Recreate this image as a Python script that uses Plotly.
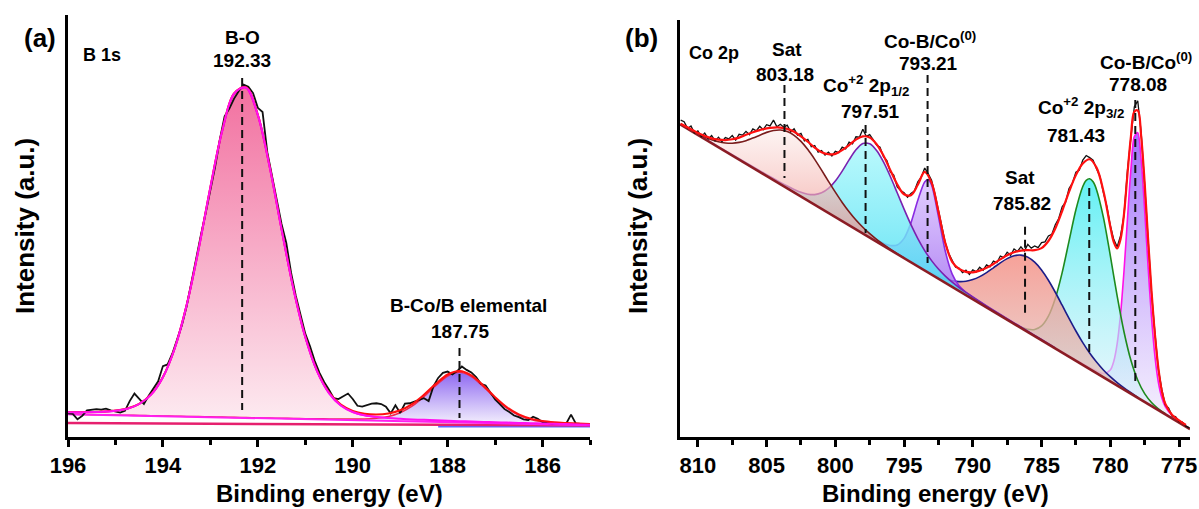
import plotly.graph_objects as go

W, H = 1199, 509
FONT = "Liberation Sans, Arial, sans-serif"

# ---------------- panel (a): B 1s ----------------
a_E = [196.0, 195.75, 195.5, 195.25, 195.0, 194.75, 194.5, 194.25, 194.0, 193.75, 193.5, 193.25,
       193.0, 192.75, 192.5, 192.25, 192.0, 191.75, 191.5, 191.25, 191.0, 190.75, 190.5, 190.25,
       190.0, 189.75, 189.5, 189.25, 189.0, 188.75, 188.5, 188.25, 188.0, 187.75, 187.5, 187.25,
       187.0, 186.75, 186.5, 186.25, 186.0, 185.75, 185.5, 185.25, 185.0]
a_base = [5.40, 5.34, 5.28, 5.22, 5.16, 5.10, 5.05, 4.99, 4.93, 4.87, 4.81, 4.75,
          4.69, 4.63, 4.57, 4.51, 4.45, 4.39, 4.33, 4.28, 4.22, 4.16, 4.10, 4.04,
          3.98, 3.92, 3.86, 3.80, 3.74, 3.68, 3.63, 3.57, 3.51, 3.45, 3.39, 3.33,
          3.27, 3.21, 3.15, 3.10, 3.04, 2.98, 2.92, 2.86, 2.80]
a_BO = [5.87, 5.88, 5.92, 6.01, 6.22, 6.71, 7.82, 10.04, 14.17, 21.04, 31.21, 44.38,
        59.09, 72.55, 81.37, 82.79, 76.28, 63.98, 49.23, 35.14, 23.68, 15.55, 10.40, 7.46,
        5.92, 5.14, 4.73, 4.48, 4.31, 4.17, 4.06, 3.95, 3.85, 3.76, 3.67, 3.58,
        3.50, 3.42, 3.34, 3.28, 3.20, 3.13, 3.06, 2.99, 2.92]
a_BCo = [5.43, 5.37, 5.31, 5.26, 5.20, 5.14, 5.10, 5.04, 4.98, 4.93, 4.87, 4.82,
         4.76, 4.71, 4.65, 4.60, 4.54, 4.49, 4.43, 4.38, 4.34, 4.30, 4.27, 4.24,
         4.24, 4.28, 4.45, 4.87, 5.76, 7.31, 9.58, 12.21, 14.47, 15.35, 14.35, 11.97,
         9.22, 6.84, 5.17, 4.17, 3.63, 3.34, 3.18, 3.06, 2.97]
a_fit = [5.90, 5.91, 5.95, 6.05, 6.26, 6.75, 7.87, 10.09, 14.22, 21.10, 31.27, 44.45,
         59.16, 72.63, 81.45, 82.88, 76.37, 64.08, 49.33, 35.24, 23.80, 15.69, 10.57, 7.66,
         6.18, 5.50, 5.32, 5.55, 6.33, 7.80, 10.01, 12.59, 14.81, 15.66, 14.63, 12.22,
         9.45, 7.05, 5.36, 4.35, 3.79, 3.49, 3.32, 3.19, 3.09]
a_dE = [196.0, 195.9, 195.8, 195.7, 195.6, 195.5, 195.4, 195.3, 195.2, 195.1,
        195.0, 194.9, 194.8, 194.7, 194.6, 194.5, 194.4, 194.3, 194.2, 194.1,
        194.0, 193.9, 193.8, 193.7, 193.6, 193.5, 193.4, 193.3, 193.2, 193.1,
        193.0, 192.9, 192.8, 192.7, 192.6, 192.5, 192.4, 192.3, 192.2, 192.1,
        192.0, 191.9, 191.8, 191.7, 191.6, 191.5, 191.4, 191.3, 191.2, 191.1,
        191.0, 190.9, 190.8, 190.7, 190.6, 190.5, 190.4, 190.3, 190.2, 190.1,
        190.0, 189.9, 189.8, 189.7, 189.6, 189.5, 189.4, 189.3, 189.2, 189.1,
        189.0, 188.9, 188.8, 188.7, 188.6, 188.5, 188.4, 188.3, 188.2, 188.1,
        188.0, 187.9, 187.8, 187.7, 187.6, 187.5, 187.4, 187.3, 187.2, 187.1,
        187.0, 186.9, 186.8, 186.7, 186.6, 186.5, 186.4, 186.3, 186.2, 186.1,
        186.0, 185.9, 185.8, 185.7, 185.6, 185.5, 185.4, 185.3, 185.2, 185.1,
        185.0]
a_data = [5.6, 5.5, 4.2, 5.0, 6.3, 6.5, 6.6, 6.5, 6.7, 6.3,
          6.0, 5.8, 6.2, 8.5, 10.3, 9.0, 7.8, 9.8, 11.5, 13.2,
          16.8, 17.2, 19.8, 23.0, 26.5, 31.0, 36.8, 42.5, 47.8, 53.0,
          58.5, 64.0, 70.5, 76.0, 77.8, 80.2, 82.0, 83.5, 83.0, 81.5,
          78.0, 77.0, 67.5, 62.0, 56.5, 50.5, 46.0, 39.0, 33.5, 29.2,
          24.5, 21.5, 18.0, 15.2, 13.0, 11.2, 9.2, 9.0, 9.6, 10.3,
          9.0, 7.4, 7.2, 7.6, 7.9, 8.0, 7.8, 7.2, 5.6, 7.5,
          5.7, 7.9, 8.0, 8.4, 8.8, 9.2, 8.5, 12.0, 14.0, 15.2,
          15.5, 14.8, 15.6, 16.7, 15.9, 15.3, 14.2, 12.6, 12.2, 10.5,
          8.9, 7.8, 6.6, 5.9, 5.1, 4.7, 4.2, 4.0, 4.8, 4.3,
          3.5, 3.3, 3.2, 3.3, 3.2, 3.2, 5.3, 3.2, 3.1, 3.1,
          3.0]
a_line2_E = [196.0, 185.0]
a_line2_I = [3.3, 2.75]
a_line3_E = [188.2, 185.0]
a_line3_I = [2.45, 2.45]
a_marks_E = [192.33, 187.75]
a_marks_top = [85.1, 21.1]
a_marks_bot = [6.4, 4.5]
a_ticks = [196, 194, 192, 190, 188, 186]

# ---------------- panel (b): Co 2p ----------------
b_bg_E = [811.3, 774.2]
b_bg_I = [75.0, 1.9]

b_sat1_E = [811.0, 810.5, 810.0, 809.5, 809.0, 808.5, 808.0, 807.5, 807.0, 806.5, 806.0, 805.5,
            805.0, 804.5, 804.0, 803.5, 803.0, 802.5, 802.0, 801.5, 801.0, 800.5, 800.0, 799.5,
            799.0, 798.5, 798.0, 797.5, 797.0, 796.5, 796.0, 795.5, 795.0]
b_sat1_I = [74.49, 73.58, 72.73, 71.95, 71.30, 70.80, 70.52, 70.45, 70.65, 71.07, 71.69, 72.38,
            73.05, 73.50, 73.62, 73.25, 72.35, 70.89, 68.93, 66.58, 63.99, 61.32, 58.71, 56.24,
            54.02, 52.03, 50.30, 48.76, 47.41, 46.18, 45.05, 43.97, 42.94]

b_p12_E = [811.0, 810.0, 809.0, 808.0, 807.0, 806.0, 805.0, 804.0, 803.5, 803.0, 802.5, 802.0,
           801.5, 801.0, 800.5, 800.0, 799.5, 799.0, 798.5, 798.0, 797.5, 797.0, 796.5, 796.0,
           795.5, 795.0, 794.5, 794.0, 793.5, 793.0, 792.5, 792.0, 791.5, 791.0, 790.5, 790.0,
           789.0, 788.0, 787.0, 786.0, 785.0, 784.0]
b_p12_I = [74.51, 72.55, 70.61, 68.66, 66.73, 64.81, 62.91, 61.06, 60.18, 59.37, 58.69, 58.23,
           58.13, 58.55, 59.61, 61.39, 63.77, 66.45, 68.88, 70.39, 70.30, 68.68, 65.95, 62.46,
           58.57, 54.64, 50.92, 47.59, 44.71, 42.30, 40.28, 38.59, 37.13, 35.85, 34.67, 33.57,
           31.46, 29.40, 27.38, 25.37, 23.37, 21.37]

b_met12_E = [800.0, 799.0, 798.0, 797.5, 797.0, 796.5, 796.0, 795.5, 795.0, 794.5, 794.0, 793.5,
             793.25, 793.0, 792.5, 792.0, 791.5, 791.0, 790.5, 790.0, 789.5, 789.0, 788.0, 787.0,
             786.0, 785.0]
b_met12_I = [52.89, 50.97, 49.09, 48.17, 47.30, 46.49, 45.94, 46.05, 47.63, 51.35, 56.76, 61.17,
             61.72, 60.42, 52.88, 44.53, 39.07, 36.26, 34.68, 33.49, 32.38, 31.33, 29.27, 27.25,
             25.25, 23.26]

b_sat2_E = [793.0, 792.0, 791.5, 791.0, 790.5, 790.0, 789.5, 789.0, 788.5, 788.0, 787.5, 787.0,
            786.5, 786.0, 785.5, 785.0, 784.5, 784.0, 783.5, 783.0, 782.5, 782.0, 781.5, 781.0,
            780.5, 780.0, 779.5, 779.0, 778.0]
b_sat2_I = [39.27, 37.90, 37.46, 37.27, 37.35, 37.75, 38.45, 39.43, 40.58, 41.76, 42.78, 43.47,
            43.62, 43.14, 41.93, 40.06, 37.59, 34.71, 31.60, 28.45, 25.42, 22.63, 20.13, 17.96,
            16.07, 14.46, 13.03, 11.77, 9.51]

b_p32_E = [786.5, 786.0, 785.5, 785.0, 784.5, 784.0, 783.5, 783.0, 782.5, 782.0, 781.75, 781.5,
           781.25, 781.0, 780.5, 780.0, 779.5, 779.0, 778.5, 778.0, 777.5, 777.0, 776.5, 776.0]
b_p32_I = [26.38, 25.82, 25.76, 26.64, 28.97, 33.21, 39.41, 46.98, 54.49, 60.06, 61.54, 61.93,
           61.19, 59.32, 52.67, 43.54, 33.83, 25.18, 18.40, 13.61, 10.40, 8.28, 6.76, 5.57]

b_met32_E = [784.0, 783.0, 782.0, 781.5, 781.0, 780.5, 780.0, 779.75, 779.5, 779.25, 779.0, 778.75,
             778.5, 778.25, 778.0, 777.75, 777.5, 777.25, 777.0, 776.75, 776.5, 776.25, 776.0, 775.5,
             775.0, 774.5]
b_met32_I = [21.34, 19.43, 17.56, 16.65, 15.82, 15.22, 16.06, 18.12, 22.35, 29.55, 39.88, 52.26,
             64.15, 72.06, 72.98, 66.35, 54.48, 40.93, 28.68, 19.34, 13.12, 9.40, 7.27, 5.18,
             3.94, 2.83]

b_fit_E = [811.25, 811.0, 810.5, 810.0, 809.5, 809.0, 808.5, 808.0, 807.5, 807.0, 806.5, 806.0,
           805.5, 805.0, 804.5, 804.0, 803.5, 803.0, 802.5, 802.0, 801.5, 801.0, 800.5, 800.0,
           799.5, 799.0, 798.5, 798.0, 797.5, 797.0, 796.5, 796.0, 795.5, 795.0, 794.5, 794.0,
           793.5, 793.0, 792.5, 792.0, 791.5, 791.0, 790.5, 790.0, 789.5, 789.0, 788.5, 788.0,
           787.5, 787.0, 786.5, 786.0, 785.5, 785.0, 784.5, 784.0, 783.5, 783.0, 782.5, 782.0,
           781.5, 781.0, 780.5, 780.0, 779.75, 779.5, 779.25, 779.0, 778.75, 778.5, 778.25, 778.0,
           777.75, 777.5, 777.25, 777.0, 776.75, 776.5, 776.25, 776.0, 775.5, 775.0, 774.5]
b_fit_I = [75.1, 74.7, 73.8, 72.9, 72.2, 71.6, 71.3, 71.2, 71.4, 71.8, 72.5, 73.1,
           73.6, 74.0, 74.2, 74.2, 73.9, 73.2, 72.1, 70.8, 69.4, 68.3, 67.8, 67.9,
           68.8, 70.0, 71.3, 72.1, 71.8, 70.2, 67.5, 64.0, 60.6, 58.2, 58.0, 60.5,
           63.6, 61.0, 54.0, 46.5, 42.0, 40.3, 39.6, 39.5, 39.9, 40.6, 41.5, 42.6,
           43.6, 44.3, 44.7, 44.8, 44.8, 45.3, 47.0, 50.0, 54.2, 58.8, 62.8, 65.6,
           66.6, 64.6, 59.0, 50.5, 46.8, 45.2, 47.5, 53.5, 63.0, 72.0, 78.0, 78.3,
           72.0, 61.0, 47.5, 35.0, 24.5, 16.5, 11.0, 8.0, 5.3, 4.0, 2.9]

b_dE = [811.25, 811.0, 810.75, 810.5, 810.25, 810.0, 809.75, 809.5,
        809.25, 809.0, 808.75, 808.5, 808.25, 808.0, 807.75, 807.5,
        807.25, 807.0, 806.75, 806.5, 806.25, 806.0, 805.75, 805.5,
        805.25, 805.0, 804.75, 804.5, 804.25, 804.0, 803.75, 803.5,
        803.25, 803.0, 802.75, 802.5, 802.25, 802.0, 801.75, 801.5,
        801.25, 801.0, 800.75, 800.5, 800.25, 800.0, 799.75, 799.5,
        799.25, 799.0, 798.75, 798.5, 798.25, 798.0, 797.75, 797.5,
        797.25, 797.0, 796.75, 796.5, 796.25, 796.0, 795.75, 795.5,
        795.25, 795.0, 794.75, 794.5, 794.25, 794.0, 793.75, 793.5,
        793.25, 793.0, 792.75, 792.5, 792.25, 792.0, 791.75, 791.5,
        791.25, 791.0, 790.75, 790.5, 790.25, 790.0, 789.75, 789.5,
        789.25, 789.0, 788.75, 788.5, 788.25, 788.0, 787.75, 787.5,
        787.25, 787.0, 786.75, 786.5, 786.25, 786.0, 785.75, 785.5,
        785.25, 785.0, 784.75, 784.5, 784.25, 784.0, 783.75, 783.5,
        783.25, 783.0, 782.75, 782.5, 782.25, 782.0, 781.75, 781.5,
        781.25, 781.0, 780.75, 780.5, 780.25, 780.0, 779.75, 779.5,
        779.25, 779.0, 778.75, 778.5, 778.25, 778.0, 777.75, 777.5,
        777.25, 777.0, 776.75, 776.5, 776.25, 776.0, 775.75, 775.5,
        775.25, 775.0, 774.75, 774.5, 774.25]
b_data = [76.0, 75.6, 74.0, 74.6, 72.9, 73.4, 72.0, 72.9,
          71.5, 72.3, 71.0, 71.9, 70.8, 71.8, 71.5, 72.3,
          71.2, 72.6, 72.4, 73.3, 72.5, 73.9, 73.4, 74.5,
          73.7, 74.9, 74.6, 76.0, 74.4, 75.0, 74.3, 74.8,
          73.2, 73.9, 72.4, 72.8, 71.0, 71.4, 69.6, 69.9,
          68.3, 68.7, 67.6, 68.3, 67.4, 68.5, 68.2, 69.5,
          69.1, 70.7, 70.3, 72.0, 71.9, 73.8, 72.1, 72.5,
          71.3, 70.0, 69.5, 67.2, 66.3, 63.6, 62.8, 60.0,
          59.1, 58.6, 57.5, 58.4, 59.0, 61.2, 62.3, 64.5,
          63.2, 61.6, 58.3, 54.4, 50.9, 46.6, 44.0, 42.4,
          40.7, 40.5, 39.4, 40.0, 39.0, 40.1, 39.6, 40.7,
          40.0, 41.3, 40.8, 42.2, 41.8, 43.4, 43.0, 44.3,
          43.6, 45.1, 44.5, 45.6, 44.6, 46.2, 45.3, 45.8,
          45.4, 46.6, 46.8, 48.2, 48.6, 50.9, 52.4, 55.2,
          56.3, 59.6, 60.9, 63.5, 64.0, 66.4, 67.5, 67.0,
          66.4, 64.3, 62.5, 58.6, 55.3, 50.8, 47.4, 45.6,
          48.3, 53.2, 63.9, 71.8, 79.2, 80.6, 72.9, 60.5,
          47.9, 34.6, 25.0, 16.2, 11.4, 7.7, 6.9, 5.0,
          4.9, 3.7, 3.6, 2.6, 2.2]

b_marks_E = [803.7, 797.8, 793.29, 786.2, 781.53, 778.18]
b_marks_top = [84.4, 74.8, 86.8, 50.4, 59.7, 80.8]
b_marks_bot = [62.1, 48.9, 41.7, 29.3, 19.2, 12.5]
b_names = ["Sat", "Co<sup>+2</sup> 2p<sub>1/2</sub>", "Co-B/Co<sup>(0)</sup>",
           "Sat", "Co<sup>+2</sup> 2p<sub>3/2</sub>", "Co-B/Co<sup>(0)</sup>"]
b_values = ["803.18", "797.51", "793.21", "785.82", "781.43", "778.08"]
b_ticks = [810, 805, 800, 795, 790, 785, 780, 775]

# ---------------- figure ----------------
fig = go.Figure()


def add_line(x, y, color, width, xa, ya, shape="linear", dash=None):
    fig.add_trace(go.Scatter(x=x, y=y, mode="lines", xaxis=xa, yaxis=ya,
                             line=dict(color=color, width=width, shape=shape, dash=dash),
                             hoverinfo="skip", showlegend=False))


def add_peak(x, y, base_x, base_y, c_low, c_high, line_color, xa, ya, lw=1.6):
    fig.add_trace(go.Scatter(x=base_x, y=base_y, mode="lines", xaxis=xa, yaxis=ya,
                             line=dict(width=0, color="rgba(0,0,0,0)"),
                             hoverinfo="skip", showlegend=False))
    fig.add_trace(go.Scatter(x=x, y=y, mode="lines", xaxis=xa, yaxis=ya, fill="tonexty",
                             fillgradient=dict(type="vertical",
                                               colorscale=[[0, c_low], [1, c_high]]),
                             line=dict(color=line_color, width=lw, shape="spline", smoothing=0.8),
                             hoverinfo="skip", showlegend=False))


# panel (a)
add_peak(a_E, a_BO, a_E, a_base, "rgba(253,235,241,0.95)", "rgba(241,105,155,0.95)",
         "#ff10f0", "x", "y", lw=2)
add_peak(a_E, a_BCo, a_E, a_base, "rgba(244,240,253,0.9)", "rgba(135,95,240,0.95)",
         "#ee2850", "x", "y", lw=1.6)
add_line(a_line3_E, a_line3_I, "rgba(60,60,255,0.8)", 1.5, "x", "y")
add_line(a_line2_E, a_line2_I, "#e6206e", 2.5, "x", "y")
add_line(a_E, a_base, "#ff20f0", 2, "x", "y")
add_line(a_dE, a_data, "#111111", 1.8, "x", "y")
add_line(a_E, a_fit, "#ff1010", 2, "x", "y", shape="spline")
add_line(a_E, a_BO, "#ff10f0", 2, "x", "y", shape="spline")
for e, t, b in zip(a_marks_E, a_marks_top, a_marks_bot):
    add_line([e, e], [t, b], "#111111", 2, "x", "y", dash="8px,5px")

# panel (b) components, drawn right to left
comps = [
    (b_met32_E, b_met32_I, "rgba(238,230,252,0.6)", "rgba(150,95,250,0.9)", "#ff10e8"),
    (b_p32_E, b_p32_I, "rgba(225,240,250,0.55)", "rgba(70,238,242,0.85)", "#1e8a1e"),
    (b_sat2_E, b_sat2_I, "rgba(222,195,190,0.65)", "rgba(245,145,135,0.85)", "#1c1c88"),
    (b_met12_E, b_met12_I, "rgba(140,75,235,0.85)", "rgba(215,190,255,0.75)", "#8a2be2"),
    (b_p12_E, b_p12_I, "rgba(40,212,240,0.9)", "rgba(175,250,252,0.75)", "#7a22b0"),
    (b_sat1_E, b_sat1_I, "rgba(236,125,118,0.75)", "rgba(252,236,234,0.55)", "#7a1c1c"),
]
for ex, iy, clo, chi, lc in comps:
    add_peak(ex, iy, [ex[0], ex[-1]], [iy[0], iy[-1]], clo, chi, lc, "x2", "y2", lw=1.6)

add_line(b_bg_E, b_bg_I, "#8b1c24", 2.5, "x2", "y2")
add_line(b_dE, b_data, "#111111", 1.3, "x2", "y2")
add_line(b_fit_E, b_fit_I, "#ff1010", 2.2, "x2", "y2", shape="spline")
for e, t, b in zip(b_marks_E, b_marks_top, b_marks_bot):
    add_line([e, e], [t, b], "#111111", 2, "x2", "y2", dash="8px,5px")

# ---------------- layout ----------------
tickfont = dict(family=FONT, size=22, color="black", weight="bold")
xcommon = dict(showline=True, linewidth=3, linecolor="black", ticks="outside", ticklen=7,
               tickwidth=2.5, tickcolor="black", showgrid=False, zeroline=False,
               tickfont=tickfont, automargin=False)
ycommon = dict(showline=True, linewidth=3, linecolor="black", ticks="", showticklabels=False,
               showgrid=False, zeroline=False, range=[0, 100], automargin=False)

fig.update_layout(
    template="none",
    width=W, height=H, margin=dict(l=0, r=0, t=0, b=0, pad=0), autosize=False,
    paper_bgcolor="white", plot_bgcolor="white", showlegend=False,
    xaxis=dict(domain=[68 / W, 590 / W], range=[196, 185], tickvals=a_ticks,
               minor=dict(ticks="outside", ticklen=5, tickwidth=2.5, tickcolor="black",
                          dtick=1, tick0=185), anchor="y", **xcommon),
    yaxis=dict(domain=[1 - 437 / H, 1 - 15 / H], anchor="x", **ycommon),
    xaxis2=dict(domain=[680 / W, 1190 / W], range=[811.3, 774.2], tickvals=b_ticks,
                minor=dict(ticks="outside", ticklen=5, tickwidth=2.5, tickcolor="black",
                           dtick=2.5, tick0=775), anchor="y2", **xcommon),
    yaxis2=dict(domain=[1 - 437 / H, 1 - 20 / H], anchor="x2", **ycommon),
)


def note(text, px, py, size=19, angle=0):
    fig.add_annotation(text=text, x=px / W, y=1 - py / H, xref="paper", yref="paper",
                       showarrow=False, xanchor="center", yanchor="middle", textangle=angle,
                       font=dict(family=FONT, size=size, color="black", weight="bold"))


# panel (a) texts
note("(a)", 40, 38, size=26)
note("B 1s", 102, 55, size=18)
note("B-O", 242, 37)
note("192.33", 242, 60)
note("B-Co/B elemental", 468, 305)
note("187.75", 460, 331)
note("Intensity (a.u.)", 25, 226, size=26, angle=-90)
note("Binding energy (eV)", 329, 493, size=24)

# panel (b) texts
note("(b)", 641, 38, size=26)
note("Co 2p", 714, 53, size=18)
b_name_pos = [(787, 49), (866, 86), (930, 40), (1020, 178), (1081, 108), (1146, 61)]
b_val_pos = [(785, 74), (870, 112), (928, 63), (1022, 203), (1076, 135), (1138, 85)]
for name, val, (nx, ny), (vx, vy) in zip(b_names, b_values, b_name_pos, b_val_pos):
    note(name, nx, ny)
    note(val, vx, vy)
note("Intensity (a.u.)", 638, 226, size=26, angle=-90)
note("Binding energy (eV)", 935, 493, size=24)

fig.write_html("out.html")
